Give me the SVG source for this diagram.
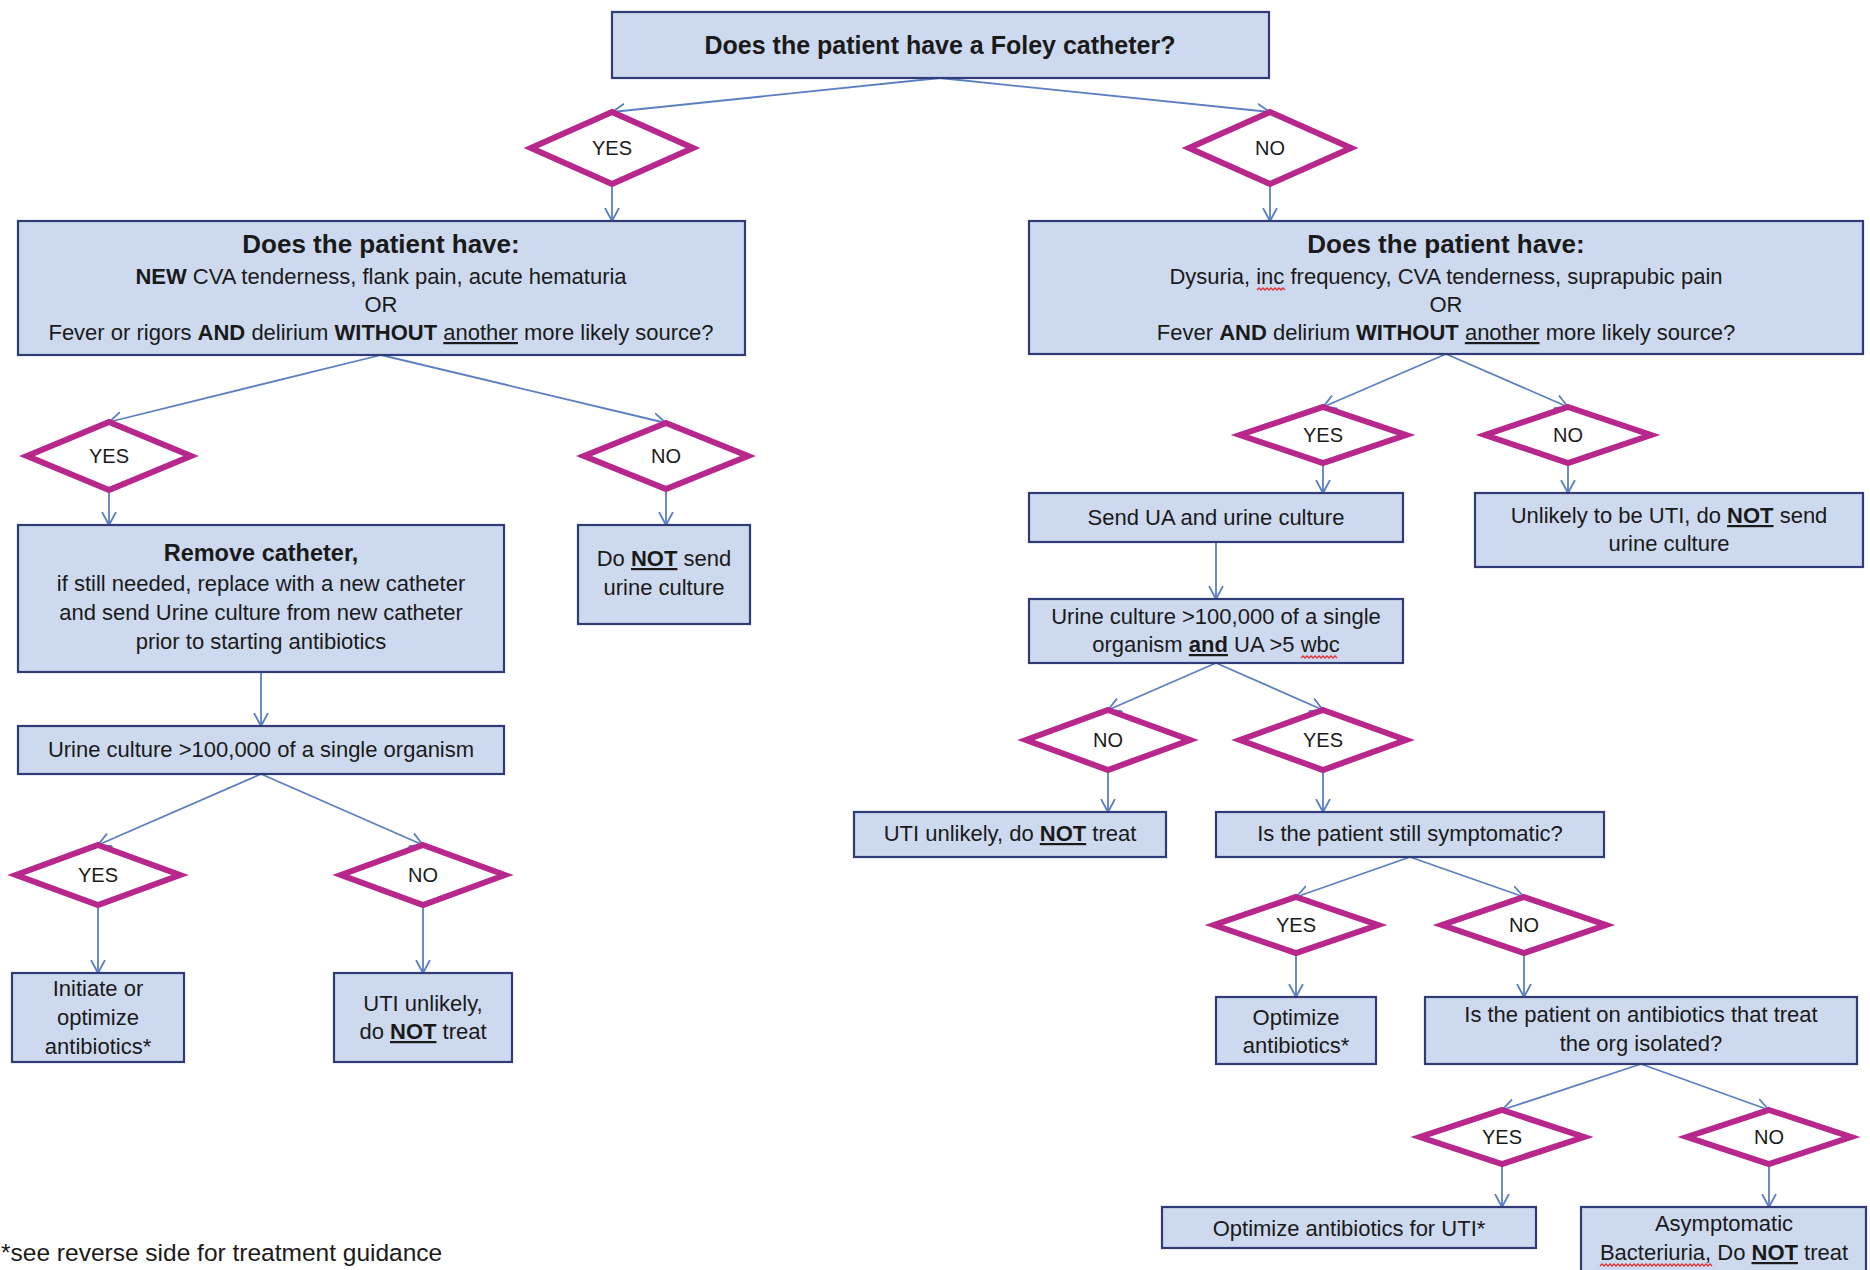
<svg xmlns="http://www.w3.org/2000/svg" width="1870" height="1270" viewBox="0 0 1870 1270">
<defs>
<style>
.box{fill:#CDD9EE;stroke:#2F3C78;stroke-width:2.2}
.dia{fill:#FFFFFF;stroke:#B8288C;stroke-width:6;stroke-linejoin:miter}
.t{font-family:"Liberation Sans",Arial,sans-serif;font-size:22px;fill:#1A1A1A;text-anchor:middle}
.h{font-family:"Liberation Sans",Arial,sans-serif;font-size:26px;font-weight:bold;fill:#1A1A1A;text-anchor:middle}
.d{font-family:"Liberation Sans",Arial,sans-serif;font-size:20px;fill:#1A1A1A;text-anchor:middle}
.b{font-weight:bold}
.u{text-decoration:underline}
.con line{stroke:#5B7FC2;stroke-width:1.8;marker-end:url(#arr)}
.sq{fill:none;stroke:#E03434;stroke-width:1.3}
</style>
<marker id="arr" markerUnits="userSpaceOnUse" markerWidth="16" markerHeight="16" refX="13" refY="7" orient="auto" viewBox="0 0 16 14">
<path d="M0,0 L13,7 L0,14" fill="none" stroke="#5B7FC2" stroke-width="1.8"/>
</marker>
</defs>
<rect width="1870" height="1270" fill="#FFFFFF"/>

<g id="connectors" class="con">
<line x1="940" y1="78" x2="612" y2="112"/>
<line x1="940" y1="78" x2="1270" y2="112"/>
<line x1="612" y1="185" x2="612" y2="221"/>
<line x1="1270" y1="184" x2="1270" y2="221"/>
<line x1="381" y1="355" x2="109" y2="422"/>
<line x1="381" y1="355" x2="666" y2="423"/>
<line x1="109" y1="490" x2="109" y2="525"/>
<line x1="666" y1="489" x2="666" y2="525"/>
<line x1="261" y1="672" x2="261" y2="726"/>
<line x1="261" y1="774" x2="98" y2="845"/>
<line x1="261" y1="774" x2="423" y2="845"/>
<line x1="98" y1="905" x2="98" y2="973"/>
<line x1="423" y1="905" x2="423" y2="973"/>
<line x1="1446" y1="354" x2="1323" y2="407"/>
<line x1="1446" y1="354" x2="1568" y2="407"/>
<line x1="1323" y1="463" x2="1323" y2="493"/>
<line x1="1568" y1="463" x2="1568" y2="493"/>
<line x1="1216" y1="542" x2="1216" y2="599"/>
<line x1="1216" y1="663" x2="1108" y2="710"/>
<line x1="1216" y1="663" x2="1323" y2="710"/>
<line x1="1108" y1="770" x2="1108" y2="812"/>
<line x1="1323" y1="770" x2="1323" y2="812"/>
<line x1="1410" y1="857" x2="1296" y2="897"/>
<line x1="1410" y1="857" x2="1524" y2="897"/>
<line x1="1296" y1="953" x2="1296" y2="997"/>
<line x1="1524" y1="953" x2="1524" y2="997"/>
<line x1="1641" y1="1064" x2="1502" y2="1110"/>
<line x1="1641" y1="1064" x2="1769" y2="1110"/>
<line x1="1502" y1="1164" x2="1502" y2="1207"/>
<line x1="1769" y1="1164" x2="1769" y2="1207"/>
</g>

<g id="n-foley">
<rect class="box" x="612" y="12" width="657" height="66"/>
<text class="h" x="940" y="54" style="font-size:25px">Does the patient have a Foley catheter?</text>
</g>

<g id="d-yes1"><polygon class="dia" points="612,112 693,148 612,184 531,148"/><text class="d" x="612" y="155">YES</text></g>
<g id="d-no1"><polygon class="dia" points="1270,112 1351,148 1270,184 1189,148"/><text class="d" x="1270" y="155">NO</text></g>

<g id="n-cath-sym">
<rect class="box" x="18" y="221" width="727" height="134"/>
<text class="h" x="381" y="253">Does the patient have:</text>
<text class="t" x="381" y="284"><tspan class="b">NEW</tspan> CVA tenderness, flank pain, acute hematuria</text>
<text class="t" x="381" y="312">OR</text>
<text class="t" x="381" y="340">Fever or rigors <tspan class="b">AND</tspan> delirium <tspan class="b">WITHOUT</tspan> <tspan class="u">another</tspan> more likely source?</text>
</g>

<g id="n-nocath-sym">
<rect class="box" x="1029" y="221" width="834" height="133"/>
<text class="h" x="1446" y="253">Does the patient have:</text>
<text class="t" x="1446" y="284">Dysuria, inc frequency, CVA tenderness, suprapubic pain</text>
<path class="sq" d="M1257,290 l2,-2 l2,2 l2,-2 l2,2 l2,-2 l2,2 l2,-2 l2,2 l2,-2 l2,2 l2,-2 l2,2 l2,-2 l2,2"/>
<text class="t" x="1446" y="312">OR</text>
<text class="t" x="1446" y="340">Fever <tspan class="b">AND</tspan> delirium <tspan class="b">WITHOUT</tspan> <tspan class="u">another</tspan> more likely source?</text>
</g>

<g id="d-yes2"><polygon class="dia" points="109,422 191,456 109,490 27,456"/><text class="d" x="109" y="463">YES</text></g>
<g id="d-no2"><polygon class="dia" points="666,423 748,456 666,489 584,456"/><text class="d" x="666" y="463">NO</text></g>

<g id="n-remove">
<rect class="box" x="18" y="525" width="486" height="147"/>
<text class="t b" x="261" y="561" style="font-size:23.5px">Remove catheter,</text>
<text class="t" x="261" y="591">if still needed, replace with a new catheter</text>
<text class="t" x="261" y="620">and send Urine culture from new catheter</text>
<text class="t" x="261" y="649">prior to starting antibiotics</text>
</g>

<g id="n-donot-send">
<rect class="box" x="578" y="525" width="172" height="99"/>
<text class="t" x="664" y="566">Do <tspan class="b u">NOT</tspan> send</text>
<text class="t" x="664" y="595">urine culture</text>
</g>

<g id="n-culture1">
<rect class="box" x="18" y="726" width="486" height="48"/>
<text class="t" x="261" y="757">Urine culture &gt;100,000 of a single organism</text>
</g>

<g id="d-yes3"><polygon class="dia" points="98,845 180,875 98,905 16,875"/><text class="d" x="98" y="882">YES</text></g>
<g id="d-no3"><polygon class="dia" points="423,845 505,875 423,905 341,875"/><text class="d" x="423" y="882">NO</text></g>

<g id="n-initiate">
<rect class="box" x="12" y="973" width="172" height="89"/>
<text class="t" x="98" y="996">Initiate or</text>
<text class="t" x="98" y="1025">optimize</text>
<text class="t" x="98" y="1054">antibiotics*</text>
</g>

<g id="n-uti-unlikely1">
<rect class="box" x="334" y="973" width="178" height="89"/>
<text class="t" x="423" y="1011">UTI unlikely,</text>
<text class="t" x="423" y="1039">do <tspan class="b u">NOT</tspan> treat</text>
</g>

<g id="d-yes4"><polygon class="dia" points="1323,407 1406,435 1323,463 1240,435"/><text class="d" x="1323" y="442">YES</text></g>
<g id="d-no4"><polygon class="dia" points="1568,407 1651,435 1568,463 1485,435"/><text class="d" x="1568" y="442">NO</text></g>

<g id="n-send-ua">
<rect class="box" x="1029" y="493" width="374" height="49"/>
<text class="t" x="1216" y="525">Send UA and urine culture</text>
</g>

<g id="n-unlikely-uti">
<rect class="box" x="1475" y="493" width="388" height="74"/>
<text class="t" x="1669" y="523">Unlikely to be UTI, do <tspan class="b u">NOT</tspan> send</text>
<text class="t" x="1669" y="551">urine culture</text>
</g>

<g id="n-culture2">
<rect class="box" x="1029" y="599" width="374" height="64"/>
<text class="t" x="1216" y="624">Urine culture &gt;100,000 of a single</text>
<text class="t" x="1216" y="652">organism <tspan class="b u">and</tspan> UA &gt;5 wbc</text>
<path class="sq" d="M1301,658 l2,-2 l2,2 l2,-2 l2,2 l2,-2 l2,2 l2,-2 l2,2 l2,-2 l2,2 l2,-2 l2,2 l2,-2 l2,2 l2,-2 l2,2 l2,-2 l2,2"/>
</g>

<g id="d-no5"><polygon class="dia" points="1108,710 1190,740 1108,770 1026,740"/><text class="d" x="1108" y="747">NO</text></g>
<g id="d-yes5"><polygon class="dia" points="1323,710 1406,740 1323,770 1240,740"/><text class="d" x="1323" y="747">YES</text></g>

<g id="n-uti-unlikely2">
<rect class="box" x="854" y="812" width="312" height="45"/>
<text class="t" x="1010" y="841">UTI unlikely, do <tspan class="b u">NOT</tspan> treat</text>
</g>

<g id="n-still-sym">
<rect class="box" x="1216" y="812" width="388" height="45"/>
<text class="t" x="1410" y="841">Is the patient still symptomatic?</text>
</g>

<g id="d-yes6"><polygon class="dia" points="1296,897 1378,925 1296,953 1214,925"/><text class="d" x="1296" y="932">YES</text></g>
<g id="d-no6"><polygon class="dia" points="1524,897 1606,925 1524,953 1442,925"/><text class="d" x="1524" y="932">NO</text></g>

<g id="n-optimize">
<rect class="box" x="1216" y="997" width="160" height="67"/>
<text class="t" x="1296" y="1025">Optimize</text>
<text class="t" x="1296" y="1053">antibiotics*</text>
</g>

<g id="n-on-abx">
<rect class="box" x="1425" y="997" width="432" height="67"/>
<text class="t" x="1641" y="1022">Is the patient on antibiotics that treat</text>
<text class="t" x="1641" y="1051">the org isolated?</text>
</g>

<g id="d-yes7"><polygon class="dia" points="1502,1110 1584,1137 1502,1164 1420,1137"/><text class="d" x="1502" y="1144">YES</text></g>
<g id="d-no7"><polygon class="dia" points="1769,1110 1851,1137 1769,1164 1687,1137"/><text class="d" x="1769" y="1144">NO</text></g>

<g id="n-opt-uti">
<rect class="box" x="1162" y="1207" width="374" height="41"/>
<text class="t" x="1349" y="1236">Optimize antibiotics for UTI*</text>
</g>

<g id="n-asymp">
<rect class="box" x="1581" y="1207" width="285" height="75"/>
<text class="t" x="1724" y="1231">Asymptomatic</text>
<text class="t" x="1724" y="1260">Bacteriuria, Do <tspan class="b u">NOT</tspan> treat</text>
<path class="sq" d="M1600,1266 l2,-2 l2,2 l2,-2 l2,2 l2,-2 l2,2 l2,-2 l2,2 l2,-2 l2,2 l2,-2 l2,2 l2,-2 l2,2 l2,-2 l2,2 l2,-2 l2,2 l2,-2 l2,2 l2,-2 l2,2 l2,-2 l2,2 l2,-2 l2,2 l2,-2 l2,2 l2,-2 l2,2 l2,-2 l2,2 l2,-2 l2,2 l2,-2 l2,2 l2,-2 l2,2 l2,-2 l2,2 l2,-2 l2,2 l2,-2 l2,2 l2,-2 l2,2 l2,-2 l2,2 l2,-2 l2,2 l2,-2 l2,2 l2,-2 l2,2 l2,-2 l2,2"/>
</g>

<g id="footnote">
<text x="1" y="1261" style="font-family:'Liberation Sans',Arial,sans-serif;font-size:24.5px;fill:#1A1A1A">*see reverse side for treatment guidance</text>
</g>
</svg>
